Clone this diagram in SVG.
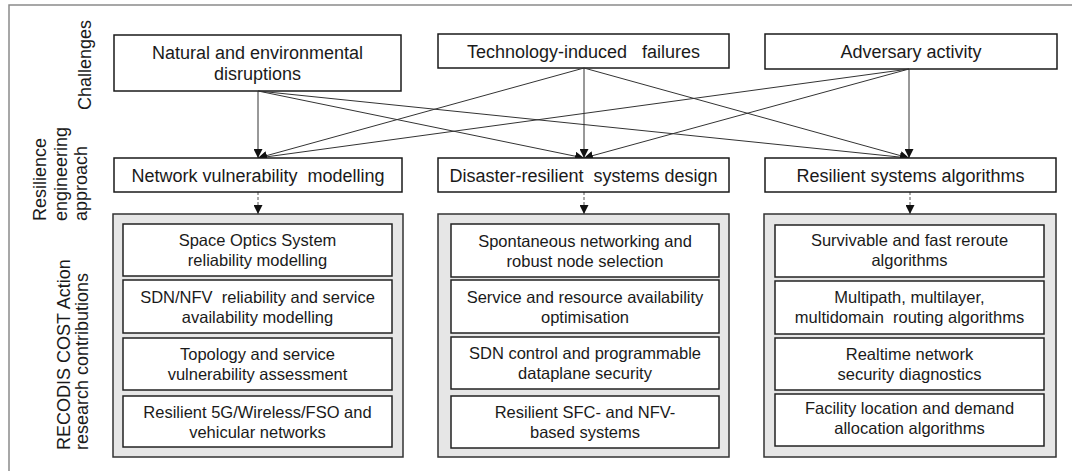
<svg xmlns="http://www.w3.org/2000/svg" width="1072" height="471" viewBox="0 0 1072 471">
<style>
text{font-family:"Liberation Sans",Arial,sans-serif;fill:#1a1a1a}
.h{font-size:18px;text-anchor:middle}
.s{font-size:16.5px;text-anchor:middle}
.lab{font-size:18px}
.box{fill:#fff;stroke:#1a1a1a;stroke-width:1.5}
.grp{fill:#e6e6e6;stroke:#333;stroke-width:1.5}
.in{fill:#fff;stroke:#222;stroke-width:1.5}
.ln{stroke:#333;stroke-width:1;fill:none;marker-end:url(#ah)}
.dl{stroke:#555;stroke-width:1;stroke-dasharray:3,2;fill:none;marker-end:url(#ah)}
</style>
<defs>
<marker id="ah" markerUnits="userSpaceOnUse" markerWidth="9" markerHeight="9" refX="9" refY="4.5" orient="auto" viewBox="0 0 9 9">
<path d="M0,0 L9,4.5 L0,9 z" fill="#111"/>
</marker>
</defs>
<rect x="9" y="5" width="1080" height="480" fill="#fff" stroke="#8a8a8a" stroke-width="1.5"/>

<g id="side-labels">
<text class="lab" text-anchor="middle" transform="translate(90.5,65) rotate(-90)">Challenges</text>
<text class="lab" transform="translate(46,221) rotate(-90)">Resilience</text>
<text class="lab" transform="translate(67,221) rotate(-90)">engineering</text>
<text class="lab" transform="translate(87,221) rotate(-90)">approach</text>
<text class="lab" transform="translate(70,450) rotate(-90)">RECODIS COST Action</text>
<text class="lab" transform="translate(88,450) rotate(-90)">research contributions</text>
</g>

<g id="ch1"><rect class="box" x="114" y="35" width="287" height="56"/>
<text class="h" x="257.5" y="59">Natural and environmental</text>
<text class="h" x="257.5" y="80">disruptions</text></g>
<g id="ch2"><rect class="box" x="438" y="34" width="291" height="34"/>
<text class="h" x="583.5" y="58" xml:space="preserve">Technology-induced   failures</text></g>
<g id="ch3"><rect class="box" x="765" y="34" width="292" height="35"/>
<text class="h" x="911" y="58">Adversary activity</text></g>

<g id="connectors">
<line class="ln" x1="258" y1="91" x2="258" y2="158"/>
<line class="ln" x1="258" y1="91" x2="584" y2="158"/>
<line class="ln" x1="258" y1="91" x2="909" y2="158"/>
<line class="ln" x1="584" y1="68" x2="258" y2="158"/>
<line class="ln" x1="584" y1="68" x2="584" y2="158"/>
<line class="ln" x1="584" y1="68" x2="909" y2="158"/>
<line class="ln" x1="909" y1="69" x2="258" y2="158"/>
<line class="ln" x1="909" y1="69" x2="584" y2="158"/>
<line class="ln" x1="909" y1="69" x2="909" y2="158"/>
<line class="dl" x1="258" y1="192" x2="258" y2="214"/>
<line class="dl" x1="584" y1="192" x2="584" y2="214"/>
<line class="dl" x1="910" y1="192" x2="910" y2="214"/>
</g>

<g id="ap1"><rect class="box" x="114" y="158" width="288" height="34"/>
<text class="h" x="258" y="182" xml:space="preserve">Network vulnerability  modelling</text></g>
<g id="ap2"><rect class="box" x="438" y="158" width="291" height="34"/>
<text class="h" x="583.5" y="182" xml:space="preserve">Disaster-resilient  systems design</text></g>
<g id="ap3"><rect class="box" x="765" y="158" width="291" height="34"/>
<text class="h" x="910.5" y="182">Resilient systems algorithms</text></g>

<g id="grp1"><rect class="grp" x="113" y="214" width="290" height="243"/>
<g id="g1a"><rect class="in" x="123" y="224" width="269" height="52"/>
<text class="s" x="257.5" y="246">Space Optics System</text><text class="s" x="257.5" y="266">reliability modelling</text></g>
<g id="g1b"><rect class="in" x="123" y="280" width="269" height="53"/>
<text class="s" x="257.5" y="302.5" xml:space="preserve">SDN/NFV  reliability and service</text><text class="s" x="257.5" y="322.5">availability modelling</text></g>
<g id="g1c"><rect class="in" x="123" y="338" width="269" height="52"/>
<text class="s" x="257.5" y="360">Topology and service</text><text class="s" x="257.5" y="380">vulnerability assessment</text></g>
<g id="g1d"><rect class="in" x="123" y="396" width="269" height="51"/>
<text class="s" x="257.5" y="417.5">Resilient 5G/Wireless/FSO and</text><text class="s" x="257.5" y="437.5">vehicular networks</text></g>
</g>

<g id="grp2"><rect class="grp" x="438" y="214" width="291" height="243"/>
<g id="g2a"><rect class="in" x="451" y="224" width="268" height="53"/>
<text class="s" x="585" y="246.5">Spontaneous networking and</text><text class="s" x="585" y="266.5">robust node selection</text></g>
<g id="g2b"><rect class="in" x="451" y="280" width="268" height="53"/>
<text class="s" x="585" y="302.5">Service and resource availability</text><text class="s" x="585" y="322.5">optimisation</text></g>
<g id="g2c"><rect class="in" x="451" y="337" width="268" height="52"/>
<text class="s" x="585" y="359">SDN control and programmable</text><text class="s" x="585" y="379">dataplane security</text></g>
<g id="g2d"><rect class="in" x="451" y="396" width="268" height="52"/>
<text class="s" x="585" y="418">Resilient SFC- and NFV-</text><text class="s" x="585" y="438">based systems</text></g>
</g>

<g id="grp3"><rect class="grp" x="764" y="214" width="292" height="243"/>
<g id="g3a"><rect class="in" x="775" y="225" width="269" height="52"/>
<text class="s" x="909.5" y="246">Survivable and fast reroute</text><text class="s" x="909.5" y="266">algorithms</text></g>
<g id="g3b"><rect class="in" x="775" y="281" width="269" height="53"/>
<text class="s" x="909.5" y="303">Multipath, multilayer,</text><text class="s" x="909.5" y="323" xml:space="preserve">multidomain  routing algorithms</text></g>
<g id="g3c"><rect class="in" x="775" y="338" width="269" height="52"/>
<text class="s" x="909.5" y="360">Realtime network</text><text class="s" x="909.5" y="380">security diagnostics</text></g>
<g id="g3d"><rect class="in" x="775" y="394" width="269" height="52"/>
<text class="s" x="909.5" y="414">Facility location and demand</text><text class="s" x="909.5" y="434">allocation algorithms</text></g>
</g>
</svg>
